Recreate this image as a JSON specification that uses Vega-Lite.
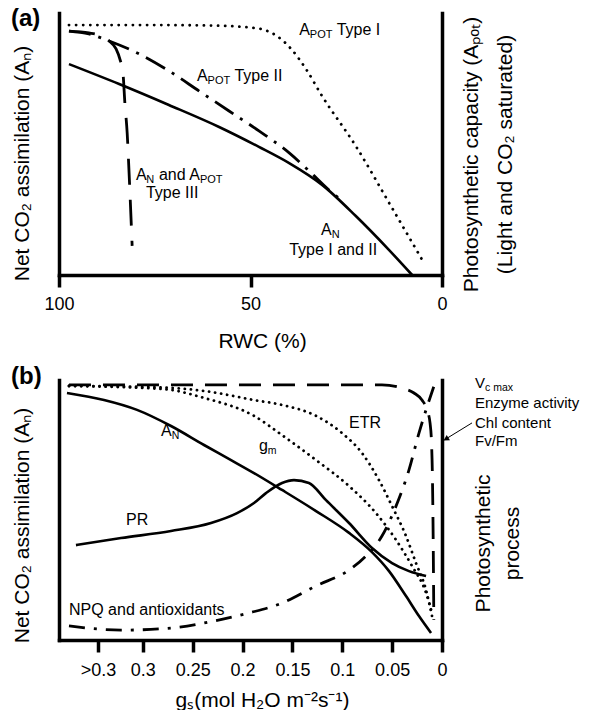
{
  "$schema": "https://vega.github.io/schema/vega-lite/v6.json",
  "padding": {"left": 10, "top": 7, "right": 0, "bottom": 0},
  "spacing": 14,
  "config": {
    "font": "Liberation Sans",
    "view": {"stroke": null},
    "axis": {
      "domainColor": "black", "domainWidth": 3.5, "domainCap": "square",
      "tickColor": "black", "tickWidth": 3.5, "tickSize": 12,
      "labelColor": "black", "labelFontSize": 18, "labelFont": "Liberation Sans",
      "titleFont": "Liberation Sans", "titleFontSize": 21, "titleFontWeight": "normal", "titleColor": "black",
      "grid": false, "labelFlush": false, "labelOverlap": false
    },
    "title": {"font": "Liberation Sans", "color": "black"}
  },
  "vconcat": [
    {
      "width": 383, "height": 262,
      "title": {"text": "(a)", "anchor": "start", "frame": "bounds", "fontSize": 24, "fontWeight": "bold", "baseline": "middle", "offset": 0, "dy": 30},
      "data": {"values": [
        {"s": "I", "x": 97.4, "y": 95.4}, {"s": "I", "x": 76.5, "y": 95.4}, {"s": "I", "x": 60, "y": 95.2}, {"s": "I", "x": 53.0, "y": 94.8}, {"s": "I", "x": 47.3, "y": 93.9}, {"s": "I", "x": 43.1, "y": 91.2}, {"s": "I", "x": 39.4, "y": 86.3}, {"s": "I", "x": 35.5, "y": 78.6}, {"s": "I", "x": 31.3, "y": 68.3}, {"s": "I", "x": 22.5, "y": 49.2}, {"s": "I", "x": 13.8, "y": 27.5}, {"s": "I", "x": 4.7, "y": 4.6},
        {"s": "II", "x": 97.4, "y": 93.1}, {"s": "II", "x": 92.2, "y": 92.0}, {"s": "II", "x": 86.9, "y": 89.3}, {"s": "II", "x": 79.1, "y": 84.4}, {"s": "II", "x": 71.3, "y": 77.9}, {"s": "II", "x": 63.4, "y": 70.2}, {"s": "II", "x": 55.6, "y": 62.6}, {"s": "II", "x": 47.8, "y": 55.0}, {"s": "II", "x": 39.9, "y": 46.6}, {"s": "II", "x": 34.7, "y": 39.7}, {"s": "II", "x": 29.5, "y": 32.4}, {"s": "II", "x": 25.6, "y": 27.9},
        {"s": "AN", "x": 97.4, "y": 80.5}, {"s": "AN", "x": 84.3, "y": 72.9}, {"s": "AN", "x": 71.3, "y": 64.9}, {"s": "AN", "x": 58.2, "y": 56.5}, {"s": "AN", "x": 47.8, "y": 48.9}, {"s": "AN", "x": 39.9, "y": 42.7}, {"s": "AN", "x": 31.3, "y": 34.4}, {"s": "AN", "x": 22.5, "y": 22.5}, {"s": "AN", "x": 13.8, "y": 9.5}, {"s": "AN", "x": 7.8, "y": 0},
        {"s": "III", "x": 97.4, "y": 93.1}, {"s": "III", "x": 92.2, "y": 92.4}, {"s": "III", "x": 89.6, "y": 91.6}, {"s": "III", "x": 86.9, "y": 89.3}, {"s": "III", "x": 85.1, "y": 86.3}, {"s": "III", "x": 84.1, "y": 82.4}, {"s": "III", "x": 83.3, "y": 77.1}, {"s": "III", "x": 82.8, "y": 65.6}, {"s": "III", "x": 82.2, "y": 54.2}, {"s": "III", "x": 81.7, "y": 38.9}, {"s": "III", "x": 80.9, "y": 11.1}
      ]},
      "encoding": {
        "x": {"field": "x", "type": "quantitative", "scale": {"domain": [0, 100], "reverse": true, "nice": false, "zero": false},
              "axis": {"values": [100, 50, 0], "format": "d", "title": "RWC (%)", "labelPadding": 8, "titlePadding": 17, "titleX": 203}},
        "y": {"field": "y", "type": "quantitative", "scale": {"domain": [0, 100], "nice": false}, "axis": null}
      },
      "layer": [
        {"transform": [{"filter": "datum.s == 'AN'"}],
         "mark": {"type": "line", "color": "black", "strokeWidth": 2.6, "interpolate": "monotone"},
         "encoding": {"y": {"field": "y", "type": "quantitative", "scale": {"domain": [0, 100], "nice": false},
           "axis": {"orient": "left", "title": "Net CO₂ assimilation (Aₙ)", "labels": false, "ticks": false, "titlePadding": 27, "titleY": 150}}}},
        {"transform": [{"filter": "datum.s == 'I'"}],
         "mark": {"type": "line", "color": "black", "strokeWidth": 2.8, "strokeDash": [0.1, 7], "strokeCap": "round", "interpolate": "monotone"},
         "encoding": {"y": {"field": "y", "type": "quantitative", "scale": {"domain": [0, 100], "nice": false},
           "axis": {"orient": "right", "title": ["Photosynthetic capacity (Aₚₒₜ)", "(Light and CO₂ saturated)"], "labels": false, "ticks": false,
                    "titleAngle": 270, "titleBaseline": "top", "titlePadding": -16, "titleY": 141, "titleLineHeight": 34}}}},
        {"transform": [{"filter": "datum.s == 'II'"}],
         "mark": {"type": "line", "color": "black", "strokeWidth": 2.8, "strokeDash": [22, 8, 3, 8], "interpolate": "monotone"},
         "encoding": {}},
        {"transform": [{"filter": "datum.s == 'III'"}],
         "mark": {"type": "line", "color": "black", "strokeWidth": 2.8, "strokeDash": [26, 15], "interpolate": "monotone"},
         "encoding": {}},
        {"data": {"values": [
          {"x": 37.3, "y": 93.5, "t": "A"}, {"x": 27.5, "y": 93.5, "t": "Type I"},
          {"x": 64.0, "y": 76.0, "t": "A"}, {"x": 54.2, "y": 76.0, "t": "Type II"},
          {"x": 79.9, "y": 38.2, "t": "A"}, {"x": 73.9, "y": 38.2, "t": "and A"},
          {"x": 77.3, "y": 31.3, "t": "Type III"},
          {"x": 31.6, "y": 17.0, "t": "A"},
          {"x": 39.9, "y": 9.5, "t": "Type I and II"}
         ]},
         "mark": {"type": "text", "align": "left", "baseline": "middle", "fontSize": 16, "color": "black"},
         "encoding": {"text": {"field": "t"}}},
        {"data": {"values": [
          {"x": 34.5, "y": 93.5, "t": "POT"}, {"x": 61.2, "y": 76.0, "t": "POT"},
          {"x": 77.2, "y": 38.2, "t": "N"}, {"x": 63.2, "y": 38.2, "t": "POT"},
          {"x": 28.8, "y": 17.0, "t": "N"}
         ]},
         "mark": {"type": "text", "align": "left", "baseline": "middle", "fontSize": 11, "dy": 5, "color": "black"},
         "encoding": {"text": {"field": "t"}}}
      ],
      "resolve": {"axis": {"y": "independent"}}
    },
    {
      "width": 383, "height": 260,
      "title": {"text": "(b)", "anchor": "start", "frame": "bounds", "fontSize": 24, "fontWeight": "bold", "baseline": "middle", "offset": 0, "dy": 25},
      "data": {"values": [
        {"s": "V", "x": 0.374, "y": 98.1}, {"s": "V", "x": 0.294, "y": 98.1}, {"s": "V", "x": 0.1935, "y": 98.1}, {"s": "V", "x": 0.0932, "y": 98.1}, {"s": "V", "x": 0.0602, "y": 98.1}, {"s": "V", "x": 0.0401, "y": 96.9}, {"s": "V", "x": 0.0281, "y": 95.0}, {"s": "V", "x": 0.0201, "y": 92.3}, {"s": "V", "x": 0.0150, "y": 88.5}, {"s": "V", "x": 0.0120, "y": 83.5}, {"s": "V", "x": 0.0105, "y": 75.8}, {"s": "V", "x": 0.0095, "y": 60.4}, {"s": "V", "x": 0.0088, "y": 37.3}, {"s": "V", "x": 0.0082, "y": 7.7},
        {"s": "ETR", "x": 0.374, "y": 97.7}, {"s": "ETR", "x": 0.294, "y": 97.3}, {"s": "ETR", "x": 0.2386, "y": 95.8}, {"s": "ETR", "x": 0.1885, "y": 92.3}, {"s": "ETR", "x": 0.1604, "y": 90.4}, {"s": "ETR", "x": 0.1263, "y": 86.2}, {"s": "ETR", "x": 0.1003, "y": 79.6}, {"s": "ETR", "x": 0.0802, "y": 71.9}, {"s": "ETR", "x": 0.0632, "y": 61.5}, {"s": "ETR", "x": 0.0501, "y": 51.5}, {"s": "ETR", "x": 0.0361, "y": 40.0}, {"s": "ETR", "x": 0.0261, "y": 29.6}, {"s": "ETR", "x": 0.0160, "y": 19.2}, {"s": "ETR", "x": 0.0100, "y": 9.2},
        {"s": "gm", "x": 0.374, "y": 97.7}, {"s": "gm", "x": 0.2787, "y": 96.5}, {"s": "gm", "x": 0.2386, "y": 93.1}, {"s": "gm", "x": 0.1885, "y": 86.2}, {"s": "gm", "x": 0.1604, "y": 78.8}, {"s": "gm", "x": 0.1263, "y": 69.2}, {"s": "gm", "x": 0.0932, "y": 59.2}, {"s": "gm", "x": 0.0662, "y": 48.8}, {"s": "gm", "x": 0.0461, "y": 38.5}, {"s": "gm", "x": 0.0301, "y": 28.5}, {"s": "gm", "x": 0.0160, "y": 18.1}, {"s": "gm", "x": 0.0100, "y": 10.4},
        {"s": "AN", "x": 0.376, "y": 95.0}, {"s": "AN", "x": 0.3389, "y": 92.3}, {"s": "AN", "x": 0.3058, "y": 88.5}, {"s": "AN", "x": 0.2717, "y": 82.3}, {"s": "AN", "x": 0.2386, "y": 75.0}, {"s": "AN", "x": 0.2115, "y": 69.2}, {"s": "AN", "x": 0.1885, "y": 64.2}, {"s": "AN", "x": 0.1604, "y": 57.7}, {"s": "AN", "x": 0.1263, "y": 49.6}, {"s": "AN", "x": 0.0932, "y": 41.2}, {"s": "AN", "x": 0.0702, "y": 33.8}, {"s": "AN", "x": 0.0531, "y": 26.5}, {"s": "AN", "x": 0.0361, "y": 16.9}, {"s": "AN", "x": 0.0231, "y": 9.2}, {"s": "AN", "x": 0.0110, "y": 2.7},
        {"s": "PR", "x": 0.367, "y": 36.5}, {"s": "PR", "x": 0.3218, "y": 39.2}, {"s": "PR", "x": 0.2717, "y": 41.9}, {"s": "PR", "x": 0.2316, "y": 45.0}, {"s": "PR", "x": 0.2055, "y": 48.8}, {"s": "PR", "x": 0.1885, "y": 52.7}, {"s": "PR", "x": 0.1765, "y": 56.5}, {"s": "PR", "x": 0.1604, "y": 60.4}, {"s": "PR", "x": 0.1484, "y": 61.5}, {"s": "PR", "x": 0.1334, "y": 60.4}, {"s": "PR", "x": 0.1163, "y": 53.8}, {"s": "PR", "x": 0.0932, "y": 45.0}, {"s": "PR", "x": 0.0702, "y": 35.4}, {"s": "PR", "x": 0.0501, "y": 29.6}, {"s": "PR", "x": 0.0331, "y": 26.5}, {"s": "PR", "x": 0.0160, "y": 24.6},
        {"s": "NPQ", "x": 0.374, "y": 5.4}, {"s": "NPQ", "x": 0.3218, "y": 3.8}, {"s": "NPQ", "x": 0.2717, "y": 4.6}, {"s": "NPQ", "x": 0.2286, "y": 7.3}, {"s": "NPQ", "x": 0.1935, "y": 10.4}, {"s": "NPQ", "x": 0.1604, "y": 14.2}, {"s": "NPQ", "x": 0.1263, "y": 20.8}, {"s": "NPQ", "x": 0.0932, "y": 26.9}, {"s": "NPQ", "x": 0.0762, "y": 32.3}, {"s": "NPQ", "x": 0.0602, "y": 40.0}, {"s": "NPQ", "x": 0.0461, "y": 51.5}, {"s": "NPQ", "x": 0.0331, "y": 65.4}, {"s": "NPQ", "x": 0.0231, "y": 79.6}, {"s": "NPQ", "x": 0.0160, "y": 88.5}, {"s": "NPQ", "x": 0.0080, "y": 97.7}
      ]},
      "encoding": {
        "x": {"field": "x", "type": "quantitative", "scale": {"domain": [0, 0.384], "reverse": true, "nice": false, "zero": false},
              "axis": {"values": [0.345, 0.3, 0.25, 0.2, 0.15, 0.1, 0.05, 0], "labelExpr": "datum.value > 0.31 ? '>0.3' : format(datum.value, '~g')",
                       "title": "gₛ(mol H₂O m⁻²s⁻¹)", "labelPadding": 9, "titlePadding": 10, "titleX": 203}},
        "y": {"field": "y", "type": "quantitative", "scale": {"domain": [0, 100], "nice": false}, "axis": null}
      },
      "layer": [
        {"transform": [{"filter": "datum.s == 'AN'"}],
         "mark": {"type": "line", "color": "black", "strokeWidth": 2.6, "interpolate": "monotone"},
         "encoding": {"y": {"field": "y", "type": "quantitative", "scale": {"domain": [0, 100], "nice": false},
           "axis": {"orient": "left", "title": "Net CO₂ assimilation (Aₙ)", "labels": false, "ticks": false, "titlePadding": 27, "titleY": 145}}}},
        {"transform": [{"filter": "datum.s == 'PR'"}],
         "mark": {"type": "line", "color": "black", "strokeWidth": 2.6, "interpolate": "monotone"},
         "encoding": {"y": {"field": "y", "type": "quantitative", "scale": {"domain": [0, 100], "nice": false},
           "axis": {"orient": "right", "title": ["Photosynthetic", "process"], "labels": false, "ticks": false,
                    "titleAngle": 270, "titleBaseline": "top", "titlePadding": 1, "titleY": 163, "titleLineHeight": 29}}}},
        {"transform": [{"filter": "datum.s == 'V'"}],
         "mark": {"type": "line", "color": "black", "strokeWidth": 2.8, "strokeDash": [22, 12], "interpolate": "monotone"},
         "encoding": {}},
        {"transform": [{"filter": "datum.s == 'ETR' || datum.s == 'gm'"}],
         "mark": {"type": "line", "color": "black", "strokeWidth": 2.8, "strokeDash": [0.1, 6], "strokeCap": "round", "interpolate": "monotone"},
         "encoding": {"detail": {"field": "s"}}},
        {"transform": [{"filter": "datum.s == 'NPQ'"}],
         "mark": {"type": "line", "color": "black", "strokeWidth": 2.8, "strokeDash": [16, 9, 3, 9], "interpolate": "monotone"},
         "encoding": {}},
        {"data": {"values": [{"x": -0.0301, "y": 83.5, "x2": -0.0025, "y2": 77.0}]},
         "mark": {"type": "rule", "color": "black", "strokeWidth": 1},
         "encoding": {"x2": {"field": "x2"}, "y2": {"field": "y2"}}},
        {"data": {"values": [{"x": -0.004, "y": 77.3}]},
         "mark": {"type": "point", "shape": "triangle-right", "angle": 149, "filled": true, "size": 40, "color": "black", "opacity": 1},
         "encoding": {}},
        {"data": {"values": [
          {"x": 0.2817, "y": 80.4, "t": "A"}, {"x": 0.3168, "y": 46.2, "t": "PR"}, {"x": 0.374, "y": 11.5, "t": "NPQ and antioxidants"},
          {"x": 0.1835, "y": 74.6, "t": "g"}, {"x": 0.0932, "y": 83.5, "t": "ETR"}
         ]},
         "mark": {"type": "text", "align": "left", "baseline": "middle", "fontSize": 16, "color": "black"},
         "encoding": {"text": {"field": "t"}}},
        {"data": {"values": [
          {"x": -0.0331, "y": 98.8, "t": "V"}, {"x": -0.0331, "y": 91.2, "t": "Enzyme activity"},
          {"x": -0.0331, "y": 83.5, "t": "Chl content"}, {"x": -0.0331, "y": 76.5, "t": "Fv/Fm"}
         ]},
         "mark": {"type": "text", "align": "left", "baseline": "middle", "fontSize": 15, "color": "black"},
         "encoding": {"text": {"field": "t"}}},
        {"data": {"values": [
          {"x": 0.2710, "y": 80.4, "t": "N"}, {"x": 0.1746, "y": 74.6, "t": "m"}, {"x": -0.0431, "y": 98.8, "t": "c max"}
         ]},
         "mark": {"type": "text", "align": "left", "baseline": "middle", "fontSize": 10.5, "dy": 5, "color": "black"},
         "encoding": {"text": {"field": "t"}}}
      ],
      "resolve": {"axis": {"y": "independent"}}
    }
  ]
}
